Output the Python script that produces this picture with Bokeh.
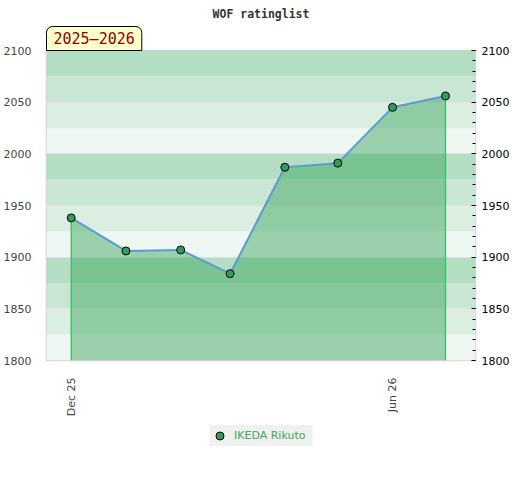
import math
from datetime import datetime
from bokeh.plotting import figure
from bokeh.layouts import column
from bokeh.models import (Range1d, LinearAxis, FixedTicker, SingleIntervalTicker,
                          DatetimeTickFormatter, Legend, LegendItem, Title)
from bokeh.embed import file_html
from bokeh.resources import INLINE

# ---- data ----
dates = [datetime(2025, 12, 1), datetime(2026, 1, 1), datetime(2026, 2, 1),
         datetime(2026, 3, 1), datetime(2026, 4, 1), datetime(2026, 5, 1),
         datetime(2026, 6, 1), datetime(2026, 7, 1)]
ratings = [1938, 1906, 1907, 1884, 1987, 1991, 2045, 2056]
player = "IKEDA Rikuto"
season = "2025–2026"
title = "WOF ratinglist"
x_tick_dates = [datetime(2025, 12, 1), datetime(2026, 6, 1)]
y_ticks = [1800, 1850, 1900, 1950, 2000, 2050, 2100]
band_lo = [1800, 1825, 1850, 1875, 1900, 1925, 1950, 1975, 2000, 2025, 2050, 2075]
band_hi = [1825, 1850, 1875, 1900, 1925, 1950, 1975, 2000, 2025, 2050, 2075, 2100]
band_colors = ["#eff7f2", "#dbeee2", "#c9e6d4", "#b3dec4"] * 3
x_start, x_end = datetime(2025, 11, 17), datetime(2026, 7, 18)
y_start, y_end = 1800, 2100

GREEN = "#3da860"
MARKER = "#2f9e5c"

p = figure(width=512, height=420, x_axis_type="datetime", title=None,
           x_range=Range1d(x_start, x_end), y_range=Range1d(y_start, y_end),
           output_backend="svg", toolbar_location=None,
           min_border_left=37, min_border_right=37, min_border_top=50,
           min_border_bottom=60)
p.background_fill_color = "white"
p.border_fill_color = "white"
p.outline_line_color = "#d4d4d4"
p.outline_line_width = 1.5

# season box (nearest to the frame), then main title above it
p.add_layout(Title(text=season, align="left", standoff=0,
                   text_font="DejaVu Sans Mono", text_font_size="15px",
                   text_font_style="normal", text_color="#8b0000",
                   background_fill_color="#ffffcc", border_line_color="black",
                   border_line_width=1, padding=(7, 3),
                   border_radius=(6, 6, 0, 0)), "above")
p.add_layout(Title(text=title, align="center", standoff=8,
                   text_font="DejaVu Sans Mono", text_font_size="11.5px",
                   text_font_style="bold", text_color="#333333"), "above")

p.xgrid.visible = False
p.ygrid.visible = False

# background bands
p.hstrip(y0=band_lo, y1=band_hi, fill_color=band_colors, line_color=None)
p.hspan(y=y_ticks[1:-1], line_color="#e3e3e3", line_width=1)

# area
p.varea(x=dates, y1=[y_start] * len(dates), y2=ratings,
        fill_color=GREEN, fill_alpha=0.48)
p.segment(x0=[dates[0], dates[-1]], y0=[y_start, y_start],
          x1=[dates[0], dates[-1]], y1=[ratings[0], ratings[-1]],
          line_color="#34c060", line_width=1.3)
p.line(dates, ratings, line_color="#5b9bd5", line_width=2)
p.scatter(dates, ratings, size=8, fill_color=MARKER,
          line_color="black", line_width=1)

# axes
xa = p.xaxis[0]
xa.ticker = FixedTicker(ticks=[d.timestamp() * 1000 for d in x_tick_dates])
fmt = "%b %y"
xa.formatter = DatetimeTickFormatter(
    microseconds=fmt, milliseconds=fmt, seconds=fmt, minsec=fmt, minutes=fmt,
    hourmin=fmt, hours=fmt, days=fmt, months=fmt, years=fmt, context=None)
xa.major_label_orientation = math.pi / 2
xa.major_label_text_font = "DejaVu Sans"
xa.major_label_text_font_size = "11px"
xa.major_label_text_color = "#444444"
xa.major_label_standoff = 11
xa.axis_line_color = None
xa.major_tick_line_color = None
xa.minor_tick_line_color = None

ya = p.yaxis[0]
ya.ticker = FixedTicker(ticks=y_ticks)
ya.major_label_text_font = "DejaVu Sans"
ya.major_label_text_font_size = "11px"
ya.major_label_text_color = "#444444"
ya.major_label_standoff = 9
ya.axis_line_color = None
ya.major_tick_line_color = None
ya.minor_tick_line_color = None

ra = LinearAxis(ticker=SingleIntervalTicker(interval=50, num_minor_ticks=5))
ra.major_label_text_font = "DejaVu Sans"
ra.major_label_text_font_size = "11px"
ra.major_label_text_color = "black"
ra.major_label_standoff = 6
ra.axis_line_color = None
ra.major_tick_in = 4
ra.major_tick_out = 0
ra.minor_tick_in = 3
ra.minor_tick_out = 0
ra.major_tick_line_color = "black"
ra.minor_tick_line_color = "black"
p.add_layout(ra, "right")

# legend strip below the chart (key points lie outside its 0..1 view)
lf = figure(width=512, height=56, x_range=Range1d(0, 1), y_range=Range1d(0, 1),
            output_backend="svg", toolbar_location=None, title=None,
            min_border=0, min_border_left=0, min_border_right=0,
            min_border_top=0, min_border_bottom=0)
lf.axis.visible = False
lf.grid.visible = False
lf.outline_line_color = None
lf.background_fill_color = "white"
lf.border_fill_color = "white"
key = lf.scatter(x=dates, y=ratings, size=7, fill_color=MARKER,
                 line_color="black", line_width=1)
legend = Legend(items=[LegendItem(label=player, renderers=[key])],
                location="top", orientation="horizontal",
                background_fill_color="#f0f0f0", background_fill_alpha=1,
                border_line_color=None, label_text_color="#3aaa5a",
                label_text_font="DejaVu Sans", label_text_font_size="11px",
                glyph_width=20, glyph_height=21, label_height=21,
                label_width=78, label_standoff=5, padding=4, margin=5)
lf.add_layout(legend)

layout = column(p, lf, spacing=0)
open("out.html", "w").write(file_html(layout, INLINE))
